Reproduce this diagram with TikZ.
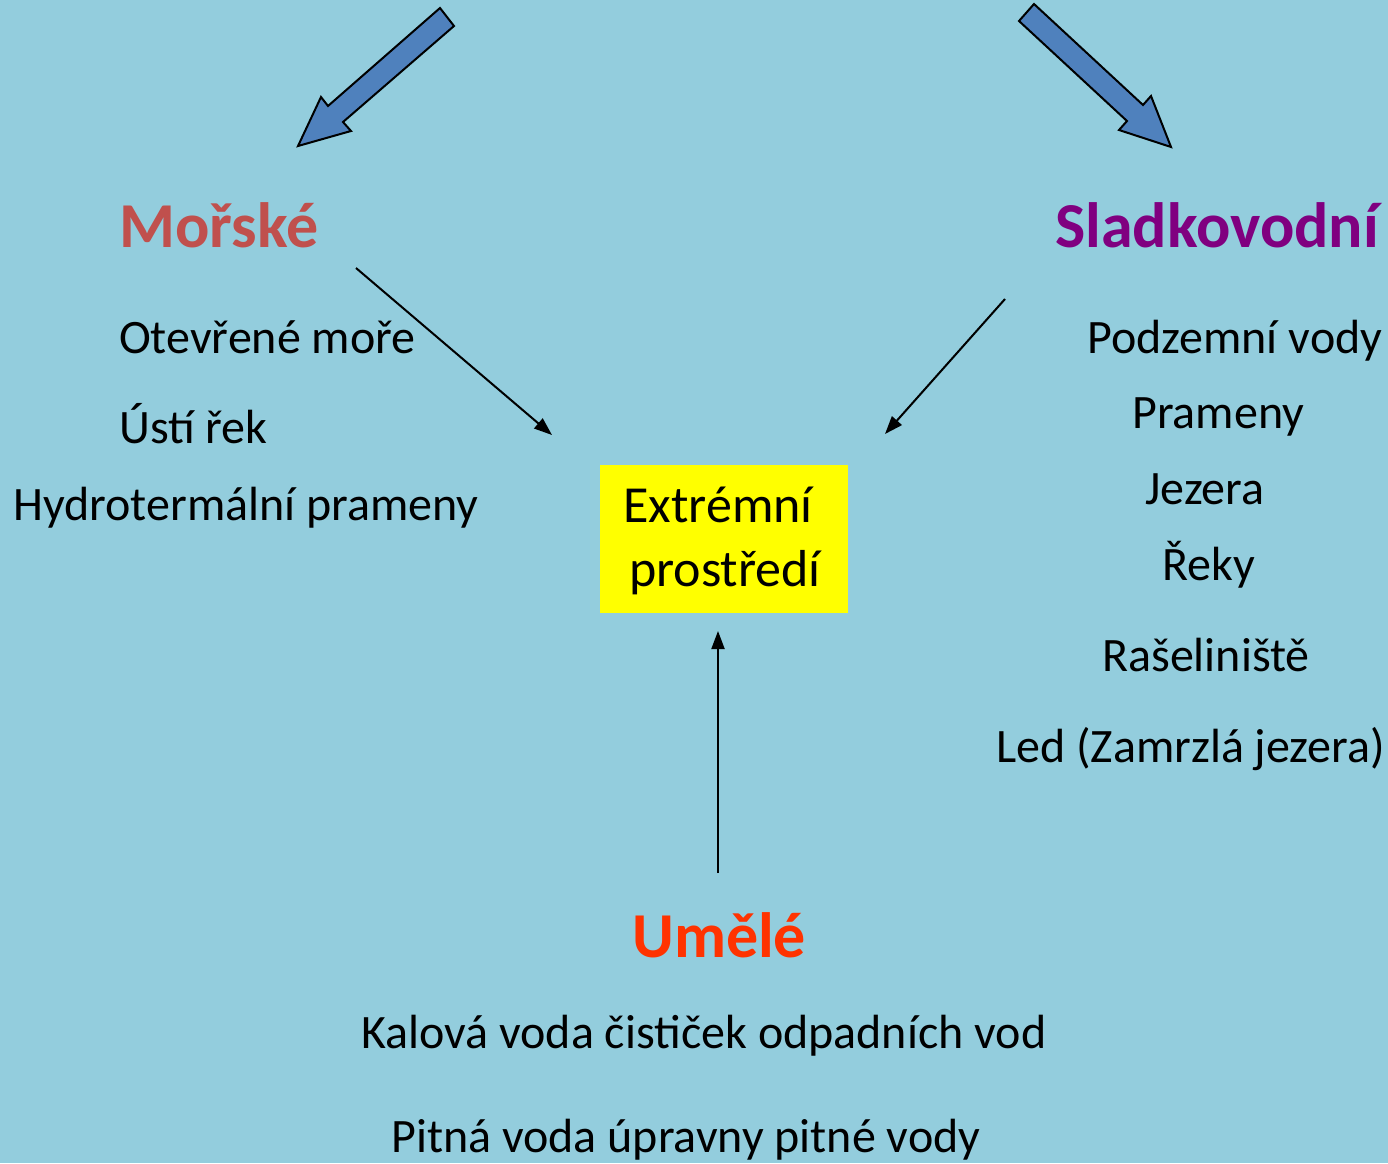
\documentclass[tikz,border=0pt]{standalone}
\usepackage{fontspec}
\setmainfont{Carlito}
\usetikzlibrary{arrows.meta}
\definecolor{bgblue}{HTML}{93CDDD}
\definecolor{arrowblue}{HTML}{4F81BD}
\definecolor{seared}{HTML}{C0504D}
\definecolor{freshpurple}{HTML}{800080}
\definecolor{artorange}{HTML}{FF3300}
\definecolor{boxyellow}{HTML}{FFFF00}
\tikzset{
  item/.style={inner sep=0pt, anchor=base west, font=\fontsize{48}{56}\selectfont},
  head/.style={inner sep=0pt, anchor=base west, font=\fontsize{64}{72}\selectfont\bfseries},
  boxtext/.style={inner sep=0pt, anchor=base, font=\fontsize{52}{60}\selectfont},
  blockarrow/.style={fill=arrowblue, draw=black, line width=2pt, line join=miter},
  thinarrow/.style={line width=2pt, -{Triangle[length=18pt,width=13pt]}},
}
\begin{document}
\begin{tikzpicture}[x=1pt,y=-1pt]
\fill[bgblue] (0,0) rectangle (1388,1163);
\useasboundingbox (0,0) rectangle (1388,1163);

% block arrows
\draw[blockarrow] (440,8) -- (454,26) -- (343,122) -- (351,131) -- (298,146) -- (321,97) -- (328,106) -- cycle;
\draw[blockarrow] (1034,4) -- (1143,105) -- (1151,96) -- (1171,147) -- (1119,130) -- (1127,121) -- (1019,21) -- cycle;

% headings
\node[head, text=seared] (morske) at (119,247) {Mořské};
\node[head, text=freshpurple] (sladko) at (1055,247) {Sladkovodní};
\node[head, text=artorange] (umele) at (632,957) {Umělé};

% marine items
\node[item] (otevrene) at (119,353) {Otevřené moře};
\node[item] (usti) at (119,443) {Ústí řek};
\node[item] (hydro) at (13,520) {Hydrotermální prameny};

% freshwater items
\node[item] (podzemni) at (1087,353) {Podzemní vody};
\node[item] (prameny) at (1132,428) {Prameny};
\node[item] (jezera) at (1145,504) {Jezera};
\node[item] (reky) at (1162,580) {Řeky};
\node[item] (raseli) at (1102,671) {Rašeliniště};
\node[item] (led) at (996,762) {Led (Zamrzlá jezera)};

% artificial items
\node[item] (kalova) at (361,1048) {Kalová voda čističek odpadních vod};
\node[item] (pitna) at (391,1152) {Pitná voda úpravny pitné vody};

% central box
\fill[boxyellow] (600,465) rectangle (848,613);
\node[boxtext] (extr) at (718,522) {Extrémní};
\node[boxtext] (prost) at (725,586) {prostředí};

% connectors
\coordinate (a1s) at (356,268);
\coordinate (a1e) at (552,435);
\coordinate (a2s) at (1005,299);
\coordinate (a2e) at (885,434);
\coordinate (a3s) at (718,873);
\coordinate (a3e) at (718,631);
\draw[thinarrow] (a1s) -- (a1e);
\draw[thinarrow] (a2s) -- (a2e);
\draw[thinarrow] (a3s) -- (a3e);
\end{tikzpicture}
\end{document}
